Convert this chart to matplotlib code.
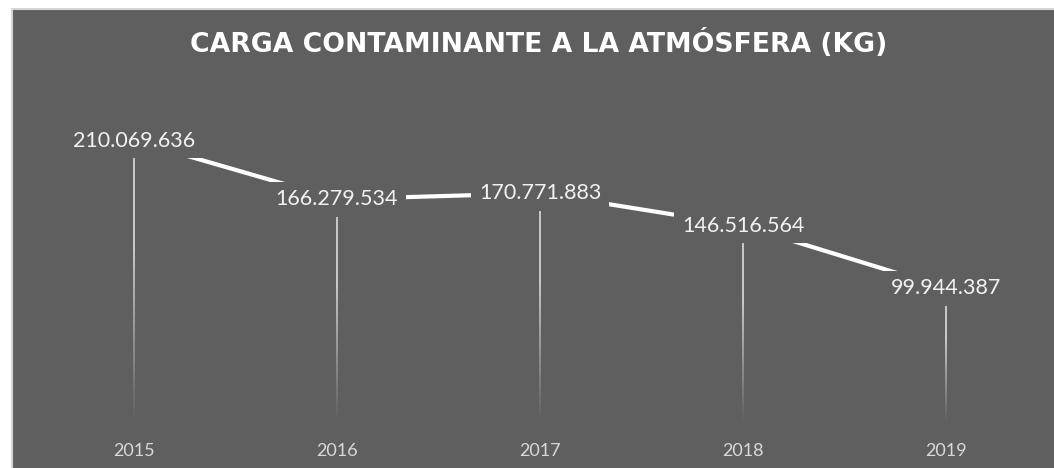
import numpy as np
import matplotlib
matplotlib.use("Agg")
import matplotlib.pyplot as plt
from matplotlib.patches import Rectangle
from matplotlib.collections import LineCollection

# data
years = ["2015", "2016", "2017", "2018", "2019"]
carga = [210069636, 166279534, 170771883, 146516564, 99944387]
etiquetas = ["210.069.636", "166.279.534", "170.771.883", "146.516.564", "99.944.387"]
titulo = "CARGA CONTAMINANTE A LA ATMÓSFERA (KG)"

BG = "#5f5f5f"
W, H = 1054, 468

fig = plt.figure(figsize=(W / 100, H / 100), dpi=100, facecolor="white")

# chart area frame (the image is cut on the right and bottom)
fig.patches.append(Rectangle((12 / W, -0.01), 1.1, (H - 9) / H + 0.01,
                             transform=fig.transFigure, facecolor=BG,
                             edgecolor="#d4d4d4", linewidth=1.5, zorder=-10))

ax = fig.add_axes([32.5 / W, 46 / H, 1015 / W, 335 / H])
ax.set_facecolor("none")
ax.set_zorder(1)
x = np.arange(len(years))

# drop lines, fading towards the axis
segs, cols = [], []
n = 40
for xi, v in zip(x, carga):
    ys = np.linspace(0, v, n + 1)
    for k in range(n):
        segs.append([(xi, ys[k]), (xi, ys[k + 1])])
        a = min(1.0, (k + 0.5) / n * 1.6)
        cols.append((0.87, 0.87, 0.87, a))
ax.add_collection(LineCollection(segs, colors=cols, linewidths=1.2, zorder=1))

ax.plot(x, carga, color="white", linewidth=3, solid_capstyle="butt", zorder=2)

for xi, v, t in zip(x, carga, etiquetas):
    ax.text(xi, v, t, ha="center", va="center", fontsize=15.5, family="Lato",
            color="#f2f2f2", zorder=3,
            bbox=dict(boxstyle="square,pad=0.35", facecolor=BG, edgecolor="none"))

ax.set_xlim(-0.5, len(years) - 0.5)
ax.set_ylim(0, 250e6)
ax.set_xticks(x)
ax.set_xticklabels(years, fontsize=13, family="Lato", color="#d9d9d9")
ax.tick_params(axis="x", length=0, pad=15)
ax.set_yticks([])
for s in ax.spines.values():
    s.set_visible(False)

fig.text(539 / W, 1 - 44 / H, titulo, ha="center", va="center",
         fontsize=19.2, fontweight="bold", family="DejaVu Sans", color="white")

fig.savefig("out.png", dpi=100, facecolor=fig.get_facecolor())
